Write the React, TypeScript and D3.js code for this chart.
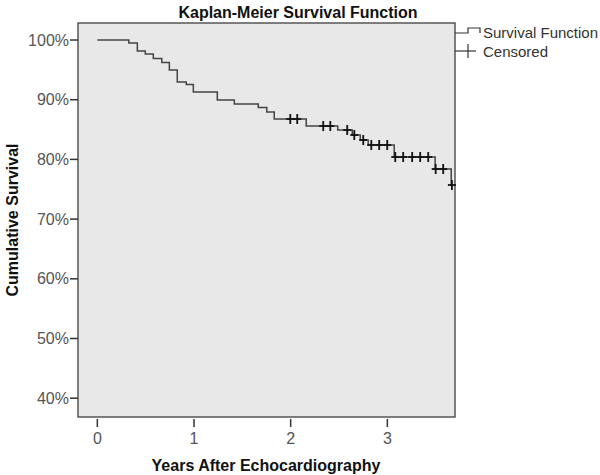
import React from "react";
import * as d3 from "d3";

// Event (drop) times in years and survival after each drop
const eventTimes = [0.326, 0.414, 0.496, 0.579, 0.667, 0.745, 0.827, 0.92, 0.993, 1.241, 1.417, 1.665, 1.753, 1.83, 2.161, 2.487, 2.637, 2.72, 2.802, 3.071, 3.495, 3.661];
const eventSurvival = [0.995, 0.9816, 0.9765, 0.969, 0.9623, 0.9497, 0.9296, 0.9255, 0.9129, 0.8995, 0.8928, 0.8869, 0.8794, 0.8677, 0.8559, 0.8492, 0.8409, 0.8325, 0.8241, 0.804, 0.7839, 0.7571];
// Censored observation times (years)
const censorTimes = [1.996, 2.068, 2.337, 2.41, 2.585, 2.658, 2.751, 2.834, 2.916, 2.999, 3.082, 3.164, 3.257, 3.34, 3.423, 3.5, 3.578, 3.668];
const xTicks = [0, 1, 2, 3];
const yTicks = [0.4, 0.5, 0.6, 0.7, 0.8, 0.9, 1.0];
const endTime = 3.668;

const FONT = "Arial, 'Liberation Sans', sans-serif";

export default function App() {
  const left = 78, right = 455, top = 23, bottom = 417;
  const x = d3.scaleLinear().domain([-0.2, 3.7]).range([left, right]);
  const y = d3.scaleLinear().domain([0.3685, 1.0285]).range([bottom, top]);

  const stepPts: [number, number][] = [[0, 1]];
  eventTimes.forEach((t, i) => stepPts.push([t, eventSurvival[i]]));
  stepPts.push([endTime, eventSurvival[eventSurvival.length - 1]]);
  const line = d3
    .line<[number, number]>()
    .x((d) => x(d[0]))
    .y((d) => y(d[1]))
    .curve(d3.curveStepAfter);

  const survAt = (t: number) => {
    let s = 1;
    eventTimes.forEach((et, i) => {
      if (et <= t) s = eventSurvival[i];
    });
    return s;
  };

  return (
    <svg width={600} height={475} style={{ position: "absolute", left: 0, top: 0, background: "#fff" }} fontFamily={FONT}>
      <text x={298} y={18} textAnchor="middle" fontSize={16} fontWeight="bold" fill="#111">
        Kaplan-Meier Survival Function
      </text>
      <rect x={left} y={top} width={right - left} height={bottom - top} fill="#e8e8e8" stroke="#555" strokeWidth={1.5} />
      {yTicks.map((t) => (
        <g key={t}>
          <line x1={left - 8} x2={left} y1={y(t)} y2={y(t)} stroke="#333" strokeWidth={1.5} />
          <text x={left - 9} y={y(t) + 5.5} textAnchor="end" fontSize={16} fill="#555">
            {d3.format(".0%")(t)}
          </text>
        </g>
      ))}
      {xTicks.map((t) => (
        <g key={t}>
          <line x1={x(t)} x2={x(t)} y1={bottom + 2} y2={bottom + 10} stroke="#333" strokeWidth={1.5} />
          <text x={x(t)} y={444} textAnchor="middle" fontSize={16} fill="#555">
            {t}
          </text>
        </g>
      ))}
      <text x={266} y={471} textAnchor="middle" fontSize={16} fontWeight="bold" fill="#111">
        Years After Echocardiography
      </text>
      <text transform={`translate(18,${(top + bottom) / 2}) rotate(-90)`} textAnchor="middle" fontSize={16} fontWeight="bold" fill="#111">
        Cumulative Survival
      </text>
      <path d={line(stepPts) || ""} fill="none" stroke="#444" strokeWidth={1.5} />
      {censorTimes.map((t, i) => {
        const cx = x(t), cy = y(survAt(t));
        return (
          <g key={i} stroke="#111" strokeWidth={1.8}>
            <line x1={cx - 4} x2={cx + 4} y1={cy} y2={cy} />
            <line x1={cx} x2={cx} y1={cy - 5} y2={cy + 5} />
          </g>
        );
      })}
      <path d="M455,33 H468 V28 H480 V33" fill="none" stroke="#333" strokeWidth={1.2} />
      <text x={483} y={38} fontSize={15} fill="#333">Survival Function</text>
      <g stroke="#333" strokeWidth={1.2}>
        <line x1={455} x2={476} y1={51} y2={51} />
        <line x1={468} x2={468} y1={44} y2={58} />
      </g>
      <text x={483} y={57} fontSize={15} fill="#333">Censored</text>
    </svg>
  );
}
